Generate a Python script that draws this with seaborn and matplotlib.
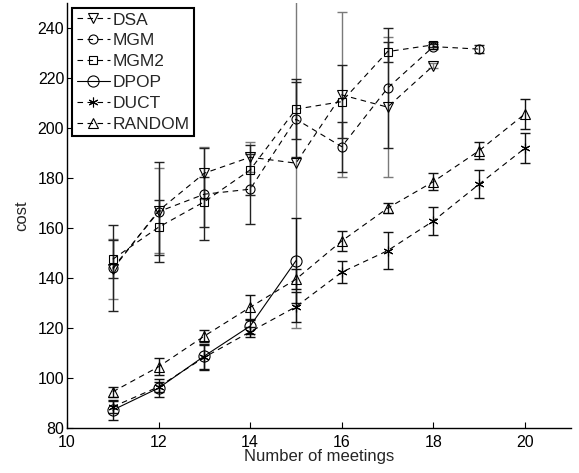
import matplotlib
matplotlib.use("Agg")
import matplotlib.pyplot as plt
import seaborn as sns

# values
dsa_x = [11, 12, 13, 14, 15, 16, 17, 18]
dsa_y = [143.5, 166.9, 181.9, 188.3, 185.9, 213.2, 208.3, 224.9]
dsa_err = [12, 17, 10.5, 6, 66, 33, 28, 1]

mgm_x = [11, 12, 13, 14, 15, 16, 17, 18, 19]
mgm_y = [144, 166.5, 173.5, 175.5, 203.5, 192.5, 215.9, 232.5, 231.5]
mgm_err = [17, 20, 18.5, 14, 15, 10, 24, 1, 1.5]

mgm2_x = [11, 12, 13, 14, 15, 16, 17, 18]
mgm2_y = [147.5, 160.3, 170.5, 183.2, 207.5, 210.5, 230.5, 233.2]
mgm2_err = [7.5, 11, 10, 10, 12, 14.5, 4, 1]

dpop_x = [11, 12, 13, 14, 15]
dpop_y = [87.2, 96, 108.8, 120.8, 146.9]
dpop_err = [4, 3.5, 5, 3, 17]

duct_x = [11, 12, 13, 14, 15, 16, 17, 18, 19, 20]
duct_y = [88.5, 96.5, 108.3, 118.5, 128.5, 142.3, 150.9, 162.8, 177.5, 191.9]
duct_err = [2.5, 2, 5, 2, 6, 4.5, 7.5, 5.5, 5.5, 6]

random_x = [11, 12, 13, 14, 15, 16, 17, 18, 19, 20]
random_y = [94.5, 104.5, 116.8, 128.3, 139.5, 154.8, 167.9, 178.5, 190.9, 205.6]
random_err = [2, 3.4, 2.5, 5, 4, 4, 2, 3.5, 3.3, 6]

sns.set_style("ticks")
plt.rcParams["font.family"] = ["Liberation Sans", "DejaVu Sans"]
plt.rcParams["xtick.direction"] = "in"
plt.rcParams["ytick.direction"] = "in"

fig = plt.figure(figsize=(5.79, 4.73), dpi=100)
ax = fig.add_axes([0.1157, 0.095, 0.870, 0.899])

dash = (0, (5, 4))
asterisk = (6, 2, 0)
series = [
    ("DSA", dsa_x, dsa_y, dsa_err, "v", 7, dash, "#7a7a7a"),
    ("MGM", mgm_x, mgm_y, mgm_err, "o", 6.5, dash, "#222222"),
    ("MGM2", mgm2_x, mgm2_y, mgm2_err, "s", 6, dash, "#222222"),
    ("DPOP", dpop_x, dpop_y, dpop_err, "o", 8, "-", "#111111"),
    ("DUCT", duct_x, duct_y, duct_err, asterisk, 7, dash, "#111111"),
    ("RANDOM", random_x, random_y, random_err, "^", 7.5, dash, "#111111"),
]

for name, xs, ys, err, mk, ms, ls, ecol in series:
    ax.errorbar(xs, ys, yerr=err, fmt="none", ecolor=ecol, elinewidth=1.0,
                capsize=3.5, capthick=1.0, zorder=2)
    sns.lineplot(x=xs, y=ys, ax=ax, label=name, color="k", linestyle=ls,
                 linewidth=0.8, marker=mk, markersize=ms,
                 markerfacecolor="none", markeredgecolor="k",
                 markeredgewidth=0.8, zorder=3)

ax.set_xlim(10, 21)
ax.set_ylim(80, 250)
ax.set_xticks([10, 12, 14, 16, 18, 20])
ax.set_yticks([80, 100, 120, 140, 160, 180, 200, 220, 240])
ax.tick_params(labelsize=11.5, length=4, width=0.8, colors="k")
ax.tick_params(axis="x", pad=5)
ax.tick_params(axis="y", pad=2)
for side in ["left", "bottom"]:
    ax.spines[side].set_linewidth(1.0)
    ax.spines[side].set_color("k")
sns.despine(ax=ax)

ax.set_xlabel("Number of meetings", fontsize=12, labelpad=-1)
ax.set_ylabel("cost", fontsize=12, labelpad=6)

leg = ax.legend(loc="upper left", fontsize=12.5, handlelength=1.9,
                handletextpad=0.2, labelspacing=0.33, borderpad=0.25,
                borderaxespad=0.3, frameon=True, fancybox=False, framealpha=1)
leg.get_frame().set_edgecolor("k")
leg.get_frame().set_linewidth(1.5)

fig.savefig("out.png", dpi=100)
